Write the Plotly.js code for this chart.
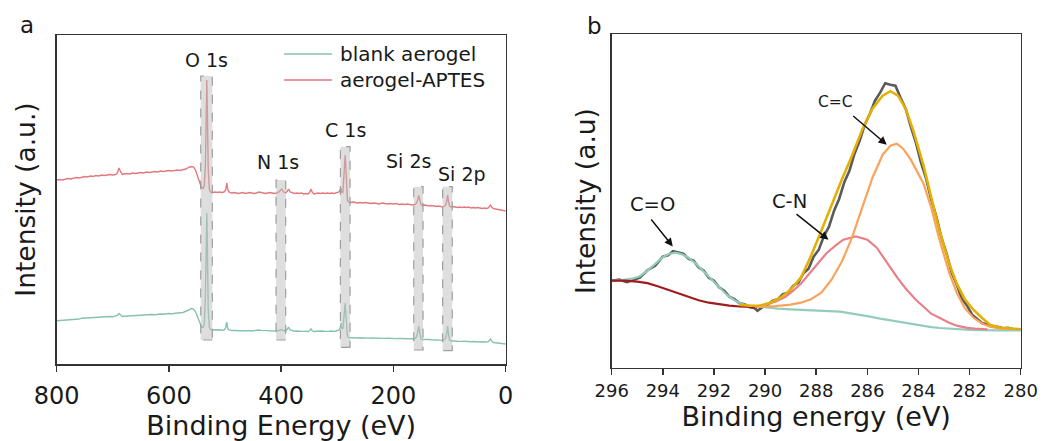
<!DOCTYPE html>
<html>
<head>
<meta charset="utf-8">
<script src="https://cdn.plot.ly/plotly-3.0.1.min.js"></script>
<style>html,body{margin:0;padding:0;background:#fff;}#chart{width:1047px;height:441px;}</style>
</head>
<body>
<div id="chart"></div>
<script>
// ---------- Panel a: XPS survey ----------
const surveyEnergy = [800,795,790,785,780,775,770,765,760,755,750,745,740,735,730,725,720,715,710,705,700,695,692,689,686,683,680,675,670,665,660,655,650,645,640,635,630,625,620,615,610,605,600,595,590,585,580,575,570,565,560,556,552,548,545,542,539,537,535,533.5,532.5,531.5,530,528,526,522,518,514,510,506,502,499,497,495,492,488,484,480,476,472,468,464,460,456,452,448,444,440,436,432,428,424,420,416,412,408,404,401,399,396,392,389,387,384,380,376,372,368,364,360,356,352,349,347,345,342,338,334,330,326,322,318,314,310,306,302,299,297,295,293.5,292,290,288.5,287,286,285,283.5,282,280,277,272,268,264,260,255,250,245,240,235,230,225,220,215,210,205,200,195,190,185,180,175,170,166,162,159,157,155,153,151,148,144,140,136,132,128,124,120,116,112,109,107,105,103.5,102,100,97,94,90,86,82,78,74,70,66,62,58,54,50,46,42,38,34,31,29,27,25,22,18,14,10,6,3,0];
const aerogelAPTES = [184,184.5,184,185,185.5,185,186,186.5,186,187,187.5,187,188,187.5,188.5,188,189,188.5,189,189.5,189,189.5,191,196,192,189.5,190,190.5,190,191,190.5,191,191.5,191,192,191.5,192,192.5,192,193,192.5,193,193.5,193,193.5,194,193.5,194,195,196.5,197.5,197,193,186,180,176.5,175.5,179,200,255,284,250,195,175,172,171.5,172,171.5,172,171.5,172,174,181,174,171.5,171,171.5,171,170.5,171,171.5,170.5,171,171.5,171,170.5,171,172,171.5,171,170.5,171,171.5,171,170.5,171,172,174,175,172,171,173,175,172,171,170.5,171,170.5,171,170,170.5,170,172,175,172,170,170.5,171,170.5,171,170.5,171,170.5,171,170.5,171,171.5,172,174,176,171,172,186,204,209,199,176,164,162,161.5,162,161.5,161,161.5,161,161.5,161,160.5,161,160.5,160,161,160.5,160,160.5,160,160.5,159.5,160,159.5,160,159.5,159,159.5,161,164,168.5,164,159.5,158.5,159,158.5,158,158.5,158,157.5,158,157.5,157,158,159,163,169,163,158,157,157.5,157,156.5,157,156.5,157,156.5,157,156,156.5,156,156.5,156,155.5,156,155.5,156,157.5,159,157,155.5,155,154.5,154,153.5,153.5,153];
const blankAerogel = [43.3,43.5,44,43.8,44.5,44.2,45,45.3,45,45.8,46,45.7,46.5,46.2,46.8,46.5,47,47.2,47,47.5,47.2,47.8,48.5,50.5,48.5,47.5,47.8,48,47.8,48.3,48.5,48.2,48.8,49,48.8,49.3,49.5,49.2,49.8,50,49.7,50.3,50.5,50.3,50.8,51,51.2,51.5,52.5,54,55.5,55,51.5,45,40,37,36.5,40,70,120,151,115,55,37,34.5,34,34.3,34,34.2,33.8,34,36,42,35,33.8,33.5,33.8,33.5,33.3,33.6,33.4,33.2,33.5,33.3,33,33.4,33.2,34,33.6,33.3,33,33.4,33.2,33,33.3,33,33.5,34,34.5,33.5,33,35,37,34,33,32.8,33,32.7,33,32.6,32.8,32.5,33.5,35.5,33.5,32.5,32.8,33,32.7,33,32.6,33,32.8,33,32.6,33,33.5,34,36,41,35,36,45,58,61,52,34,27.5,26.5,26.3,26.5,26.2,26,26.3,26,26.2,25.9,26,25.8,26,25.7,25.9,25.6,25.8,25.5,25.7,25.4,25.6,25.3,25.5,25.2,25.4,25,25.3,27,31,38,31,25,24.5,24.7,24.3,24.5,24.2,24,24.3,23.8,24,23.6,24.5,26,31,38,30,24,23,23.3,23,22.7,23,22.6,22.8,22.5,22.7,22.3,22.5,22.2,22.4,22,22.2,21.8,22,22.3,23.5,25,23,21.5,21.2,21,20.7,20.3,20.2,20];
const peakNames = ['O 1s','N 1s','C 1s','Si 2s','Si 2p'];
const peakLabelE = [533, 405.6, 286, 174, 78];
const peakLabelI = [304, 202, 234, 203, 190];
const bandLow = [522.7, 392, 277.3, 147.3, 95.2];
const bandHigh = [543.4, 409.2, 294.5, 163.9, 112.4];
const bandTop = [288, 184, 217.3, 177.3, 177.3];
const bandBottom = [24, 24, 16.7, 14, 13.3];
const surveyTicks = [800, 600, 400, 200, 0];

// ---------- Panel b: C 1s high resolution ----------
const rawE = [296.0,295.7,295.4,295.1,294.9,294.6,294.3,294.0,293.8,293.6,293.4,293.2,293.0,292.8,292.6,292.4,292.2,292.0,291.8,291.6,291.4,291.2,291.0,290.8,290.6,290.4,290.3,290.1,289.9,289.7,289.5,289.3,289.1,288.9,288.7,288.5,288.3,288.1,287.9,287.7,287.5,287.3,287.1,286.9,286.7,286.5,286.3,286.1,285.9,285.7,285.5,285.3,285.1,284.9,284.7,284.5,284.3,284.1,283.9,283.7,283.5,283.3,283.1,282.9,282.7,282.5,282.3,282.1,281.9,281.7,281.5,281.3,281.1,280.9,280.7,280.5,280.3,280.0];
const rawI = [87,88,85.5,88.5,90,97.5,102,111,112.5,116.5,115,114,109,107,100.5,97,90,87,80.5,77,71,68.5,64.5,63.5,60.5,59.5,57,60.5,63,67,68.5,73.5,75,82,85,94.5,99,111,118,131.5,141,157,169,185.5,197,214,227,243,254,267,275,284.5,283,282,270,259,241,225,205,189,168,151,130,114,95,83,69,62,53,49,44.5,43.5,41,41,39.5,40,38.5,38.3];
const envE = [291.0,290.6,290.2,289.8,289.4,289.0,288.6,288.2,287.8,287.4,287.0,286.6,286.2,285.8,285.4,285.1,284.8,284.5,284.2,283.8,283.5,283.2,282.8,282.5,282.2,281.85,281.5,281.2,280.8,280.4,280.0];
const envI = [63,62,62,65,70,78,90,112,137,163,188,212,238,259,272,276.5,272,259,237,202,170,139,104,84,69,58,49.5,43,40,39,38.5];
const coE = [296.0,295.6,295.2,294.9,294.6,294.3,294.0,293.75,293.5,293.25,293.0,292.7,292.4,292.1,291.8,291.5,291.2,290.9,290.6,290.3,290.0,289.5,289.0,288.5,288.0,287.5,287.07,286.5,286.0,285.5,285.12,284.5,284.0,283.5,283.16,282.5,282.0,281.0,280.0];
const coI = [87,87.5,89,91.5,97,104,110.5,114,115,113.5,110,104,96,88,80,73,67.5,63.5,62,61,60,59,58.3,57.5,57,56.5,56,54,51.5,49,47.3,44.5,42,40.5,39.7,38.5,37.8,37.3,37.3];
const bgE = [296.0,295.5,295.0,294.6,294.2,293.8,293.4,293.0,292.6,292.2,291.8,291.4,291.0,290.6,290.3];
const bgI = [87,87,86,84.5,81.5,78,74,70.5,67.5,65,63.2,62,61.2,60.8,60.6];
const cnE = [290.4,290.0,289.6,289.2,288.9,288.6,288.24,287.9,287.59,287.2,286.94,286.45,286.0,285.63,285.3,285.1,284.8,284.46,284.1,283.8,283.5,283.16,282.8,282.5,282.1,281.8,281.3];
const cnI = [61,63,66,71,77,84,95,105,114.7,123,128,131.3,128,120,108,100.5,89,78,68,61,54,49.7,45,42,39.8,39,38.3];
const ccE = [290.4,289.6,289.0,288.6,288.2,287.8,287.4,287.0,286.6,286.2,285.8,285.4,285.1,284.85,284.6,284.3,284.0,283.8,283.5,283.2,282.8,282.5,282.2,281.85,281.5,281.2,280.8,280.4];
const ccI = [61,61.5,63,65,68.5,75,88,106,130,160,190,213,222,224,219,208,194,184,160,130,95,75,60,50,44,41,39,38.5];

const peakText = ['C=O','C-N','C=C'];
const peakTextE = [294.41, 289.05, 287.26];
const peakTextI = [163, 166.3, 265.3];
const arrowTailE = [294.5, 288.83, 286.61];
const arrowTailI = [149.7, 154.7, 253];
const arrowHeadE = [293.61, 287.52, 285.24];
const arrowHeadI = [121.3, 128, 223];
const hiresTicks = [296,294,292,290,288,286,284,282,280];

const FONT = 'DejaVu Sans, Arial, sans-serif';
const INK = '#1a1a1a';

const traces = [
  {x: surveyEnergy, y: blankAerogel, name: 'blank aerogel', type: 'scatter', mode: 'lines',
   line: {color: '#86c2ad', width: 1.4}, xaxis: 'x', yaxis: 'y'},
  {x: surveyEnergy, y: aerogelAPTES, name: 'aerogel-APTES', type: 'scatter', mode: 'lines',
   line: {color: '#e2797e', width: 1.4}, xaxis: 'x', yaxis: 'y'},
  {x: rawE, y: rawI, name: 'raw', type: 'scatter', mode: 'lines', line: {color: '#5a5a5a', width: 2.6}, xaxis: 'x2', yaxis: 'y2'},
  {x: coE, y: coI, name: 'C=O fit / background', type: 'scatter', mode: 'lines', line: {color: '#93ccbc', width: 2.2}, xaxis: 'x2', yaxis: 'y2'},
  {x: bgE, y: bgI, name: 'C=O background', type: 'scatter', mode: 'lines', line: {color: '#a01c1c', width: 2.2}, xaxis: 'x2', yaxis: 'y2'},
  {x: cnE, y: cnI, name: 'C-N', type: 'scatter', mode: 'lines', line: {color: '#e8808a', width: 2.2}, xaxis: 'x2', yaxis: 'y2'},
  {x: ccE, y: ccI, name: 'C=C', type: 'scatter', mode: 'lines', line: {color: '#fba35c', width: 2.2}, xaxis: 'x2', yaxis: 'y2'},
  {x: envE, y: envI, name: 'envelope', type: 'scatter', mode: 'lines', line: {color: '#e3b008', width: 2.6}, xaxis: 'x2', yaxis: 'y2'}
];

const shapes = [];
for (let i = 0; i < bandLow.length; i++) {
  shapes.push({type: 'rect', xref: 'x', yref: 'y', x0: bandLow[i], x1: bandHigh[i], y0: bandBottom[i], y1: bandTop[i],
    fillcolor: 'rgba(190,190,190,0.5)', line: {color: 'rgba(150,150,150,0.9)', width: 1.2, dash: 'dash'}, layer: 'above'});
}
// manual legend (panel a)
const legendItems = [{name: 'blank aerogel', color: '#86c2ad', y: 1 - 54/441}, {name: 'aerogel-APTES', color: '#e2797e', y: 1 - 80/441}];
const annotations = [];
legendItems.forEach(it => {
  shapes.push({type: 'line', xref: 'paper', yref: 'paper', x0: 284/1047, x1: 332/1047, y0: it.y, y1: it.y, line: {color: it.color, width: 1.4}});
  annotations.push({xref: 'paper', yref: 'paper', x: 338/1047, y: it.y, text: it.name, showarrow: false, xanchor: 'left', yanchor: 'middle',
    font: {family: FONT, size: 20, color: INK}});
});
for (let i = 0; i < peakNames.length; i++) {
  annotations.push({xref: 'x', yref: 'y', x: peakLabelE[i], y: peakLabelI[i], text: peakNames[i], showarrow: false,
    xanchor: 'center', yanchor: 'middle', font: {family: FONT, size: 19, color: INK}});
}
for (let i = 0; i < peakText.length; i++) {
  annotations.push({xref: 'x2', yref: 'y2', x: peakTextE[i], y: peakTextI[i], text: peakText[i], showarrow: false,
    xanchor: 'center', yanchor: 'middle', font: {family: FONT, size: i === 2 ? 15.5 : 19.5, color: INK}});
  annotations.push({xref: 'x2', yref: 'y2', axref: 'x2', ayref: 'y2', x: arrowHeadE[i], y: arrowHeadI[i], ax: arrowTailE[i], ay: arrowTailI[i],
    text: '', showarrow: true, arrowhead: 2, arrowsize: 1.1, arrowwidth: 1.5, arrowcolor: '#111'});
}
annotations.push({xref: 'paper', yref: 'paper', x: 27/1047, y: 1 - 25/441, text: 'a', showarrow: false,
  xanchor: 'center', yanchor: 'middle', font: {family: FONT, size: 23, color: INK}});
annotations.push({xref: 'paper', yref: 'paper', x: 594/1047, y: 1 - 26/441, text: 'b', showarrow: false,
  xanchor: 'center', yanchor: 'middle', font: {family: FONT, size: 23, color: INK}});

const axisCommon = {showline: true, linecolor: '#333', linewidth: 1.5, mirror: true, showgrid: false, zeroline: false};
const layout = {
  width: 1047, height: 441, margin: {l: 0, r: 0, t: 0, b: 0},
  paper_bgcolor: '#fff', plot_bgcolor: '#fff', showlegend: false,
  font: {family: FONT, color: INK},
  xaxis: Object.assign({}, axisCommon, {domain: [56.7/1047, 505.7/1047], range: [800, 0], anchor: 'y',
    tickmode: 'array', tickvals: surveyTicks, ticks: 'outside', ticklen: 6, tickwidth: 1.5, tickcolor: '#333',
    ticklabelstandoff: 4,
    tickfont: {family: FONT, size: 24, color: INK},
    title: {text: 'Binding Energy (eV)', font: {family: FONT, size: 27, color: INK}, standoff: 3}}),
  yaxis: Object.assign({}, axisCommon, {domain: [(441-364)/441, (441-35)/441], range: [0, 329], anchor: 'x',
    showticklabels: false, ticks: '',
    title: {text: 'Intensity (a.u.)', font: {family: FONT, size: 26.5, color: INK}, standoff: 12}}),
  xaxis2: Object.assign({}, axisCommon, {domain: [611.7/1047, 1020.7/1047], range: [296, 280], anchor: 'y2',
    tickmode: 'array', tickvals: hiresTicks, ticks: 'outside', ticklen: 6, tickwidth: 1.5, tickcolor: '#333',
    tickfont: {family: FONT, size: 18, color: INK},
    title: {text: 'Binding energy (eV)', font: {family: FONT, size: 27, color: INK}, standoff: 2}}),
  yaxis2: Object.assign({}, axisCommon, {domain: [(441-367.7)/441, (441-34.3)/441], range: [0, 333.4], anchor: 'x2',
    showticklabels: false, ticks: '',
    title: {text: 'Intensity (a.u)', font: {family: FONT, size: 26.5, color: INK}, standoff: 7}}),
  shapes: shapes,
  annotations: annotations
};
Plotly.newPlot('chart', traces, layout, {staticPlot: true, displayModeBar: false});
</script>
</body>
</html>
